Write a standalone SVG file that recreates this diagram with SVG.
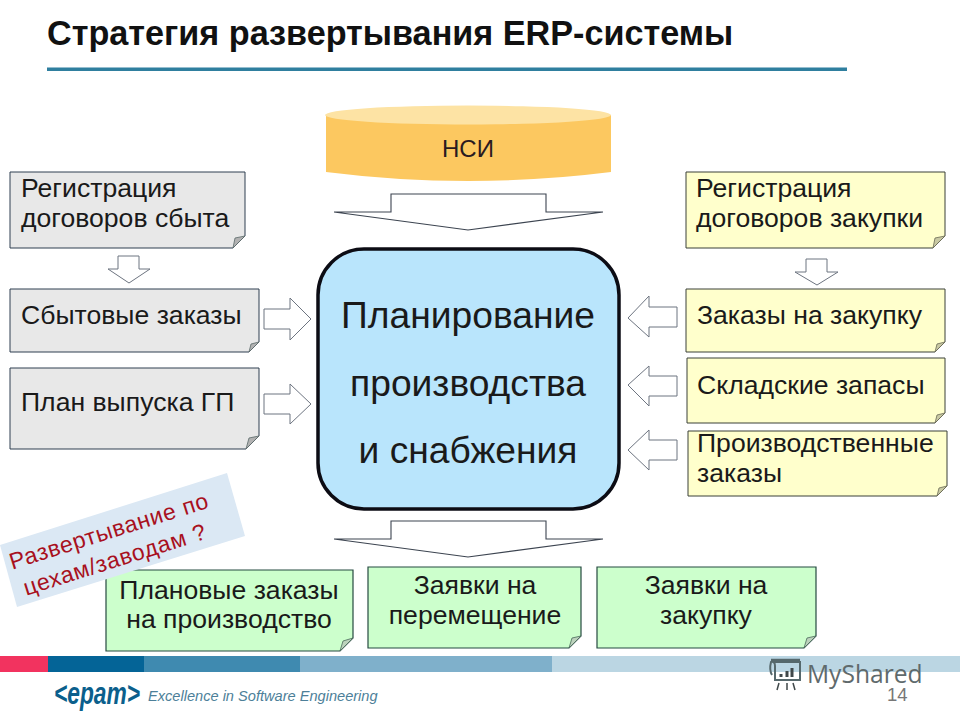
<svg xmlns="http://www.w3.org/2000/svg" width="960" height="720" viewBox="0 0 960 720">
<style>
text{font-family:"Liberation Sans",Arial,sans-serif;fill:#1a1a1a}
.t{font-size:26.6px}
.c{font-size:37.2px;text-anchor:middle}
.m{text-anchor:middle}
.g{fill:#e8e8e8;stroke:#2f3f50;stroke-width:1}
.y{fill:#ffffcc;stroke:#3a4038;stroke-width:1}
.n{fill:#ccffcc;stroke:#254a40;stroke-width:1.2}
.f{fill:#b2b2b2;stroke:#5a6a6a;stroke-width:.8}
.fy{fill:#c9c9a3;stroke:#6a6a55;stroke-width:.8}
.fn{fill:#bcd2bc;stroke:#4a6a5a;stroke-width:.8}
.a{fill:#fff;stroke:#6d7480;stroke-width:1}
.ad{fill:#fff;stroke:#3c4450;stroke-width:1.1}
.r{font-size:23px;text-anchor:middle;letter-spacing:.7px}
</style>
<rect width="960" height="720" fill="#fff"/>
<g id="title">
<text x="47" y="45" font-size="34.2" font-weight="bold" style="fill:#111">Стратегия развертывания ERP-системы</text>
<rect x="47" y="67.500" width="800" height="3.500" fill="#2f7f9f"/>
</g>
<g id="footer">
<rect x="0" y="656" width="48" height="16" fill="#f2335f"/>
<rect x="48" y="656" width="96" height="16" fill="#046497"/>
<rect x="144" y="656" width="156" height="16" fill="#3f8ab0"/>
<rect x="300" y="656" width="252" height="16" fill="#7fb0cb"/>
<rect x="552" y="656" width="408" height="16" fill="#bbd6e3"/>
<text transform="translate(54 704) scale(.735 1)" font-size="31" font-weight="bold" font-style="italic" style="fill:#0b5f8c">&lt;epam&gt;</text>
<text x="148" y="701" font-size="14.6" font-style="italic" style="fill:#4d7f99">Excellence in Software Engineering</text>
</g>
<g id="nsi">
<path d="M326 115V172Q468 190 611 172V115Z" fill="#fcc860"/>
<ellipse cx="468" cy="115" rx="143" ry="9.500" fill="#fde3a4"/>
<text x="468" y="157" font-size="24" class="m" style="fill:#2a1a20">НСИ</text>
</g>
<g id="connectors">
<path class="ad" d="M334 212H391V194H546V212H603L468 230Z"/>
<path class="ad" d="M334 539H391V521H546V539H603L468 557Z"/>
<path class="a" d="M806 259H827V272H838L817 285L795 272H806Z"/>
<path class="a" d="M118 256H139V269H150L129 283L108 269H118Z"/>
<path class="a" d="M264 309H290V298L311 319L290 340V329H264Z"/>
<path class="a" d="M264 394H290V384L311 404L290 424V414H264Z"/>
<path class="a" d="M677 307H649V296L628 318L649 337V327H677Z"/>
<path class="a" d="M677 376H649V366L628 385L649 406V396H677Z"/>
<path class="a" d="M677 440H649V430L628 450L649 470V460H677Z"/>
</g>
<g id="center">
<rect x="318" y="249" width="301" height="260" rx="46" fill="#b9e5fc" stroke="#0c0c14" stroke-width="3.500"/>
<text x="468" y="328" class="c">Планирование</text>
<text x="468" y="396" class="c">производства</text>
<text x="468" y="463" class="c">и снабжения</text>
</g>
<g id="reg-sales">
<path class="g" d="M10 172H245V236L233 248H10Z"/><path class="f" d="M245 236L233 248L235 238Z"/>
<text x="21" y="197" class="t">Регистрация</text><text x="21" y="227" class="t">договоров сбыта</text>
</g>
<g id="sales-orders">
<path class="g" d="M10 289H259V342L249 352H10Z"/><path class="f" d="M259 342L249 352L251 344Z"/>
<text x="21" y="324" class="t">Сбытовые заказы</text>
</g>
<g id="output-plan">
<path class="g" d="M10 368H259V436L246 449H10Z"/><path class="f" d="M259 436L246 449L249 438Z"/>
<text x="21" y="411" class="t">План выпуска ГП</text>
</g>
<g id="reg-purchase">
<path class="y" d="M686 172H945V236L933 248H686Z"/><path class="fy" d="M945 236L933 248L935 238Z"/>
<text x="696" y="197" class="t">Регистрация</text><text x="696" y="227" class="t">договоров закупки</text>
</g>
<g id="purchase-orders">
<path class="y" d="M686 289H945V342L935 352H686Z"/><path class="fy" d="M945 342L935 352L937 344Z"/>
<text x="697" y="324" class="t">Заказы на закупку</text>
</g>
<g id="stock">
<path class="y" d="M687 358H945V413L935 423H687Z"/><path class="fy" d="M945 413L935 423L937 415Z"/>
<text x="697" y="394" class="t">Складские запасы</text>
</g>
<g id="production-orders">
<path class="y" d="M688 431H947V486L937 496H688Z"/><path class="fy" d="M947 486L937 496L939 488Z"/>
<text x="697" y="452" class="t">Производственные</text><text x="697" y="482" class="t">заказы</text>
</g>
<g id="planned-orders">
<path class="n" d="M106 570H353V638L340 651H106Z"/><path class="fn" d="M353 638L340 651L343 641Z"/>
<text x="229" y="599" class="t m">Плановые заказы</text><text x="229" y="628" class="t m">на производство</text>
</g>
<g id="transfer-requests">
<path class="n" d="M368 567H581V636L569 648H368Z"/><path class="fn" d="M581 636L569 648L572 638Z"/>
<text x="475" y="594" class="t m">Заявки на</text><text x="475" y="624" class="t m">перемещение</text>
</g>
<g id="purchase-requests">
<path class="n" d="M597 567H816V636L804 648H597Z"/><path class="fn" d="M816 636L804 648L807 638Z"/>
<text x="706" y="594" class="t m">Заявки на</text><text x="706" y="624" class="t m">закупку</text>
</g>
<g id="note">
<path d="M0 545L227 473L245 536L17 607Z" fill="#dbe8f4"/>
<g transform="rotate(-17.500 114 547)">
<text x="114" y="538" class="r" style="fill:#a81020">Развертывание по</text>
<text x="111" y="567" class="r" style="fill:#a81020">цехам/заводам ?</text>
</g>
</g>
<g id="watermark">
<path d="M773 662H800V680H775V666Q775 661 771 662Q769 670 772 675" fill="none" stroke="#56686c" stroke-width="2"/>
<path d="M771 660H800" stroke="#56686c" stroke-width="2.500"/>
<path d="M781 677V674M787 677V671M792 677V668" stroke="#40484a" stroke-width="3" fill="none"/>
<path d="M779 683L777 690M787 683V690M793 683L795 690" stroke="#40484a" stroke-width="1.500"/>
<text x="807" y="683" font-size="24.6" style="font-family:'Open Sans','Noto Sans',sans-serif;fill:#5f6a6c">MyShared</text>
<text x="887" y="701" font-size="18.500" style="fill:#777">14</text>
</g>
</svg>
